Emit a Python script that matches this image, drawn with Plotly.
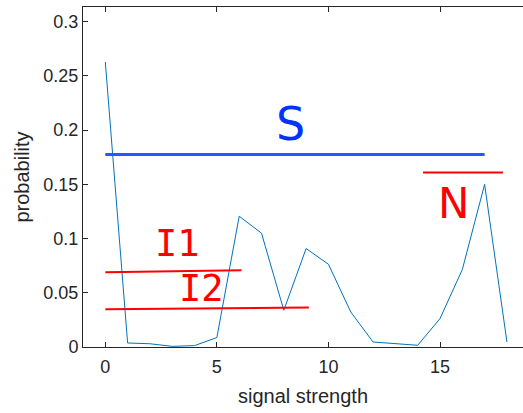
import plotly.graph_objects as go

signal = list(range(19))
prob = [0.263, 0.0037, 0.003, 0.0006, 0.0013, 0.0087, 0.1206, 0.105, 0.0339, 0.0908,
        0.0763, 0.0323, 0.0046, 0.003, 0.0016, 0.0262, 0.0714, 0.150, 0.0046]

# reference lines: (x0, x1, y0, y1)
s_line = [0, 17.0, 0.1776, 0.1776]
n_line = [14.24, 17.82, 0.161, 0.161]
i1_line = [0, 6.1, 0.0689, 0.0708]
i2_line = [0, 9.12, 0.0348, 0.0364]

labels = ["S", "N", "I1", "I2"]
label_x = [8.3, 15.62, 3.22, 4.33]
label_y = [0.2055, 0.1325, 0.0954, 0.0538]
label_colors = ["#0033ff", "#ff0000", "#ff0000", "#ff0000"]
label_sizes = [46, 42, 37, 37]
label_fonts = ["DejaVu Sans", "DejaVu Sans", "DejaVu Sans Mono", "DejaVu Sans Mono"]

fig = go.Figure()
fig.add_trace(go.Scatter(x=signal, y=prob, mode="lines",
                         line=dict(color="#0072BD", width=1), showlegend=False))

for ln, col, w in [(s_line, "#2a55ff", 3), (n_line, "#ff0000", 2),
                   (i1_line, "#ff0000", 2), (i2_line, "#ff0000", 2)]:
    fig.add_trace(go.Scatter(x=[ln[0], ln[1]], y=[ln[2], ln[3]], mode="lines",
                             line=dict(color=col, width=w), showlegend=False))

for t, x, y, c, s, f in zip(labels, label_x, label_y, label_colors, label_sizes, label_fonts):
    fig.add_annotation(x=x, y=y, text=t, showarrow=False,
                       font=dict(family=f, size=s, color=c),
                       xanchor="center", yanchor="middle")

axis_font = dict(family="Liberation Sans, Arial", size=18, color="#262626")
label_font = dict(family="Liberation Sans, Arial", size=20, color="#262626")
fig.update_xaxes(range=[-1, 18.72], tickvals=[0, 5, 10, 15], ticks="inside", ticklen=5,
                 tickcolor="#262626", showline=True, linecolor="#262626", linewidth=1,
                 mirror="allticks", showgrid=False, zeroline=False, tickfont=axis_font,
                 ticklabelstandoff=3,
                 title=dict(text="signal strength", font=label_font, standoff=13))
fig.update_yaxes(range=[0, 0.3136], tickvals=[0, 0.05, 0.1, 0.15, 0.2, 0.25, 0.3],
                 ticktext=["0", "0.05", "0.1", "0.15", "0.2", "0.25", "0.3"],
                 ticks="inside", ticklen=5, tickcolor="#262626", showline=True,
                 linecolor="#262626", linewidth=1, mirror=False, showgrid=False,
                 zeroline=False, tickfont=axis_font,
                 title=dict(text="probability", font=label_font, standoff=8))
fig.update_layout(width=523, height=413, margin=dict(l=83, r=0, t=7, b=66),
                  plot_bgcolor="white", paper_bgcolor="white")
fig.write_html("out.html")
